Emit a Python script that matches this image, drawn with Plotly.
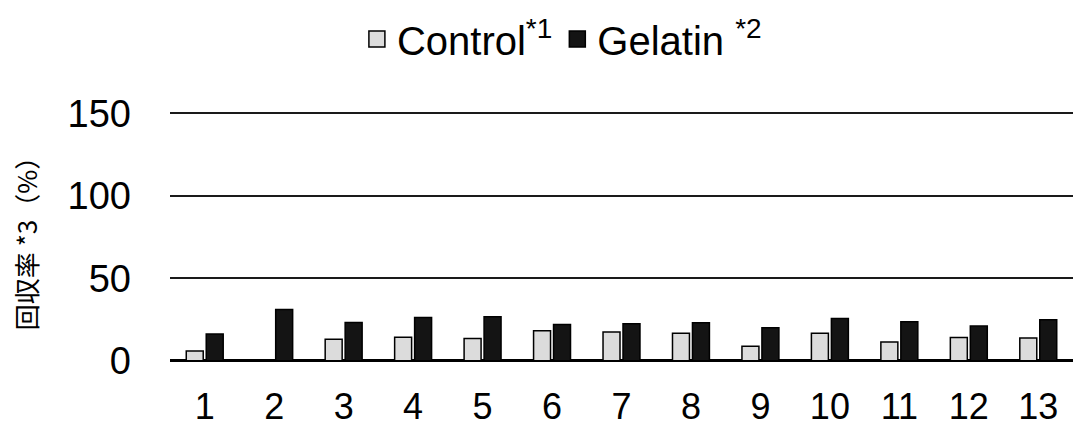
import plotly.graph_objects as go

# Sample numbers shown on the x axis
samples = ["1", "2", "3", "4", "5", "6", "7", "8", "9", "10", "11", "12", "13"]

# Recovery rate (%) per sample
control = [5.8, 0, 13.0, 14.2, 13.4, 18.2, 17.4, 16.6, 8.8, 16.6, 11.4, 14.0, 13.8]
gelatin = [16.2, 31.0, 23.2, 26.2, 26.6, 22.0, 22.4, 23.0, 20.0, 25.6, 23.6, 21.0, 24.8]

y_ticks = [0, 50, 100, 150]

LATIN = "Liberation Sans, Arial, Noto Sans CJK JP, sans-serif"
CJK = "Noto Sans CJK JP, Liberation Sans, sans-serif"

CONTROL_FILL = "#dcdcdc"
GELATIN_FILL = "#141414"

fig = go.Figure()

fig.add_trace(go.Bar(
    x=samples, y=control, name="Control",
    marker=dict(color=CONTROL_FILL, line=dict(color="#000000", width=1.5)),
    showlegend=False,
))
fig.add_trace(go.Bar(
    x=samples, y=gelatin, name="Gelatin",
    marker=dict(color=GELATIN_FILL, line=dict(color="#000000", width=1.5)),
    showlegend=False,
))

# Larger square legend keys than the default bar swatch
fig.add_trace(go.Scatter(
    x=[None], y=[None], mode="markers", name="Control<sup>*1</sup>",
    marker=dict(symbol="square", size=16, color=CONTROL_FILL,
                line=dict(color="#000000", width=1.5)),
))
fig.add_trace(go.Scatter(
    x=[None], y=[None], mode="markers", name="Gelatin <sup>*2</sup>",
    marker=dict(symbol="square", size=16, color=GELATIN_FILL,
                line=dict(color="#000000", width=1.5)),
))

fig.update_layout(
    width=1073, height=430,
    margin=dict(l=170, r=0, t=112, b=68),
    paper_bgcolor="white", plot_bgcolor="white",
    barmode="group", bargap=0.425, bargroupgap=0.15,
    font=dict(family=LATIN, color="#000000"),
    legend=dict(
        orientation="h", x=0.434, xanchor="center", y=0.985, yanchor="top",
        yref="container", font=dict(size=40, family=LATIN),
        itemwidth=30, tracegroupgap=0, bgcolor="rgba(0,0,0,0)",
    ),
    xaxis=dict(
        type="category", showgrid=False, showline=False, ticks="",
        tickfont=dict(size=36), ticklabelstandoff=20,
        automargin=False,
    ),
    yaxis=dict(
        # a hair of padding keeps the 0 and 150 lines from being clipped at the edges
        range=[-0.8, 150.8], tickvals=y_ticks, showline=False,
        zeroline=True, zerolinecolor="#000000", zerolinewidth=2.5,
        showgrid=True, gridcolor="#1a1a1a", gridwidth=1.5, ticks="",
        tickfont=dict(size=38), ticklabelstandoff=38,
        title=dict(text="回収率 *3（%）", font=dict(size=26, family=CJK), standoff=22),
        automargin=False,
    ),
)

fig.write_html("out.html")
